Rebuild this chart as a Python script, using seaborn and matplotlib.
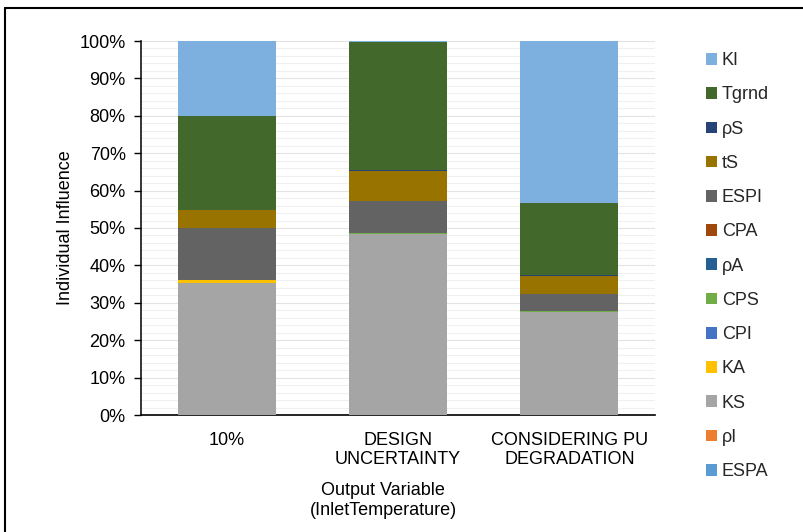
import matplotlib
matplotlib.use("Agg")
import matplotlib.pyplot as plt
from matplotlib.patches import Patch
from matplotlib.lines import Line2D
from matplotlib.ticker import MultipleLocator, PercentFormatter
import numpy as np
import pandas as pd
import seaborn as sns

# Categories on the x axis
categories = ["10%", "DESIGN\nUNCERTAINTY", "CONSIDERING PU\nDEGRADATION"]

# Share of each parameter (percent), listed bottom-to-top in the stack
ESPA = [0.0, 0.0, 0.0]
rhoI = [0.0, 0.0, 0.0]
KS = [35.4, 48.4, 27.5]
KA = [0.6, 0.0, 0.0]
CPI = [0.0, 0.0, 0.0]
CPS = [0.1, 0.3, 0.3]
rhoA = [0.0, 0.0, 0.0]
CPA = [0.0, 0.0, 0.0]
ESPI = [13.8, 8.5, 4.6]
tS = [4.8, 8.1, 4.7]
rhoS = [0.2, 0.2, 0.2]
Tgrnd = [25.1, 34.3, 19.5]
KI = [20.0, 0.2, 43.2]

series_names = ["ESPA", "ρI", "KS", "KA", "CPI", "CPS", "ρA", "CPA",
                "ESPI", "tS", "ρS", "Tgrnd", "KI"]
series_values = [ESPA, rhoI, KS, KA, CPI, CPS, rhoA, CPA,
                 ESPI, tS, rhoS, Tgrnd, KI]
series_colors = ["#5B9BD5", "#ED7D31", "#A5A5A5", "#FFC000", "#4472C4",
                 "#70AD47", "#255E91", "#9E480E", "#636363", "#997300",
                 "#264478", "#43682B", "#7EB0DF"]

FS = 13

sns.set_theme(style="white")
plt.rcParams["font.family"] = ["Liberation Sans", "DejaVu Sans"]

fig = plt.figure(figsize=(8.04, 5.32), dpi=100)
ax = fig.add_axes([141 / 804, 1 - 415 / 532, (655 - 141) / 804, (415 - 41) / 532])

# Stacked bars: draw cumulative totals from the top layer down so each
# lower layer covers the part of the taller bar beneath it.
vals = np.array(series_values)
cum = np.cumsum(vals, axis=0)
for i in range(len(series_names) - 1, -1, -1):
    df = pd.DataFrame({"cat": categories, "top": cum[i]})
    sns.barplot(data=df, x="cat", y="top", color=series_colors[i],
                width=0.573, saturation=1, linewidth=0, ax=ax, zorder=3)

ax.set_ylim(0, 100)
ax.set_xlim(-0.5, 2.5)
ax.yaxis.set_major_locator(MultipleLocator(10))
ax.yaxis.set_minor_locator(MultipleLocator(2))
ax.yaxis.set_major_formatter(PercentFormatter(decimals=0))
ax.grid(axis="y", which="major", color="#E3E3E3", linewidth=0.8, zorder=0)
ax.grid(axis="y", which="minor", color="#F0F0F0", linewidth=0.8, zorder=0)
ax.set_axisbelow(True)

for side in ["top", "right"]:
    ax.spines[side].set_visible(False)
ax.spines["left"].set_color("black")
ax.spines["bottom"].set_color("black")
ax.spines["left"].set_linewidth(1.1)
ax.spines["bottom"].set_linewidth(1.2)
ax.tick_params(axis="y", which="major", direction="out", length=5,
               width=1.0, color="black", left=True, labelsize=FS,
               labelcolor="black", pad=6)
ax.tick_params(axis="y", which="minor", left=False)
ax.tick_params(axis="x", bottom=False, labelsize=FS, labelcolor="black", pad=6)

ax.set_ylabel("Individual Influence", fontsize=FS, color="black", labelpad=4)
ax.set_xlabel("Output Variable\n(InletTemperature)", fontsize=FS,
              color="black")
ax.xaxis.set_label_coords(0.471, -0.18)
ax.xaxis.label.set_verticalalignment("top")

# Legend in Excel order: top of the stack first
handles = [Patch(facecolor=c, edgecolor="none")
           for c in reversed(series_colors)]
labels = list(reversed(series_names))
fig.legend(handles, labels, loc="upper left",
           bbox_to_anchor=(699 / 804, 1 - 45 / 532), frameon=False,
           fontsize=FS, handlelength=0.62, handleheight=0.62,
           handletextpad=0.25, labelspacing=0.955, borderaxespad=0)

# Outer chart frame (left and top edges)
fig.add_artist(Line2D([5 / 804, 5 / 804], [0, 1 - 8 / 532],
                      transform=fig.transFigure, color="black", linewidth=1.5))
fig.add_artist(Line2D([5 / 804, 1], [1 - 8 / 532, 1 - 8 / 532],
                      transform=fig.transFigure, color="black", linewidth=1.5))

fig.savefig("out.png", dpi=100)
